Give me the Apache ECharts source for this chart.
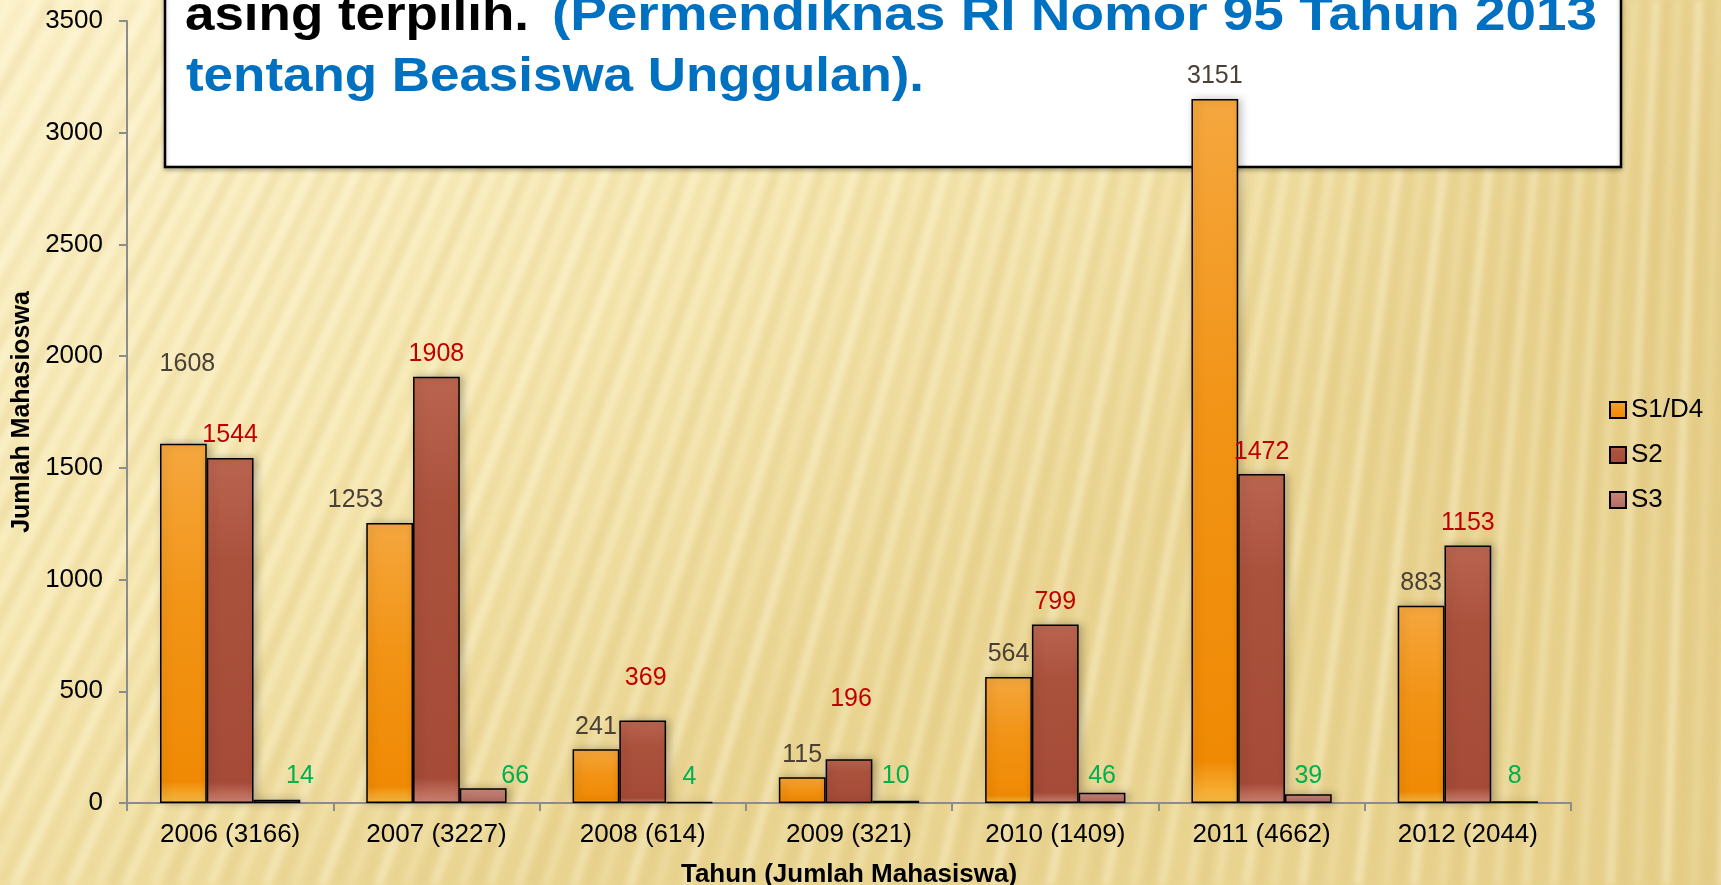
<!DOCTYPE html>
<html>
<head>
<meta charset="utf-8">
<script src="https://cdn.jsdelivr.net/npm/echarts@6/dist/echarts.min.js"></script>
<style>
  html, body { margin: 0; padding: 0; background: #F5E5AC; }
  #main { width: 1721px; height: 885px; }
</style>
</head>
<body>
<div id="main"></div>
<script>
var FONT = "'Liberation Sans', Arial, sans-serif";

// data
var categories = ['2006 (3166)', '2007 (3227)', '2008 (614)', '2009 (321)', '2010 (1409)', '2011 (4662)', '2012 (2044)'];
var s1 = [1608, 1253, 241, 115, 564, 3151, 883];
var s2 = [1544, 1908, 369, 196, 799, 1472, 1153];
var s3 = [14, 66, 4, 10, 46, 39, 8];
var yMin = 0, yMax = 3500, yStep = 500;

// labels that were dragged by hand in the original slide
var s1Nudge = { 0: [4, -57], 1: [-34, 0] };
var s2Nudge = { 2: [3, -20], 3: [2, -38] };
var s3Nudge = { 0: [23, -9], 1: [32, -9] };

function drawTexture(w, h) {
  var c = document.createElement('canvas');
  c.width = w;
  c.height = h;
  var ctx = c.getContext('2d');
  var base = ctx.createLinearGradient(0, 0, w * 0.3, h);
  base.addColorStop(0, '#FCF2CB');
  base.addColorStop(0.55, '#F6E7B0');
  base.addColorStop(1, '#EAD592');
  ctx.fillStyle = base;
  ctx.fillRect(0, 0, w, h);
  var side = ctx.createLinearGradient(w * 0.72, 0, w, 0);
  side.addColorStop(0, 'rgba(226,200,128,0)');
  side.addColorStop(1, 'rgba(226,200,128,0.45)');
  ctx.fillStyle = side;
  ctx.fillRect(0, 0, w, h);
  // diagonal straw stripes, leaning less towards the right
  ctx.filter = 'blur(3px)';
  for (var i = -40; i < 140; i++) {
    var xb = i * 14;
    var t = Math.min(Math.max((xb + 300) / (w + 300), 0), 1);
    var lean = 480 * (1 - t) + 20;
    var a = 0.3 + 0.15 * Math.sin(i * 1.7);
    ctx.strokeStyle = (i % 2) ? 'rgba(255,251,228,' + a + ')' : 'rgba(214,186,112,' + (a * 0.6) + ')';
    ctx.lineWidth = 7;
    ctx.beginPath();
    ctx.moveTo(xb, h);
    ctx.lineTo(xb + lean, 0);
    ctx.stroke();
  }
  ctx.filter = 'none';
  return c;
}

function grad(stops) {
  return new echarts.graphic.LinearGradient(0, 0, 0, 1, stops.map(function (s) {
    return { offset: s[0], color: s[1] };
  }));
}

function buildData(values, nudge) {
  return values.map(function (v, i) {
    if (!nudge[i]) return v;
    return { value: v, label: { offset: nudge[i] } };
  });
}

var chart = echarts.init(document.getElementById('main'));

var barBase = {
  type: 'bar',
  barGap: '0%',
  barCategoryGap: '32%',
  z: 3
};

var labelBase = {
  show: true,
  position: 'top',
  distance: 10,
  fontFamily: FONT,
  fontSize: 25,
  textBorderWidth: 0
};

var option = {
  animation: false,
  graphic: [
    {
      type: 'image', left: 0, top: 0, z: -10, silent: true,
      style: { image: drawTexture(1721, 885), width: 1721, height: 885 }
    },
    {
      type: 'rect', z: -5, silent: true,
      shape: { x: 165, y: -10, width: 1456, height: 177 },
      style: { fill: '#fff', stroke: '#000', lineWidth: 2.5, shadowBlur: 4, shadowColor: 'rgba(0,0,0,0.25)', shadowOffsetY: 2 }
    },
    {
      type: 'text', z: -4, silent: true, x: 185, y: 16, scaleX: 1.08,
      style: { text: 'asing terpilih.', font: 'bold 49px ' + FONT, fill: '#000', verticalAlign: 'middle' }
    },
    {
      type: 'text', z: -4, silent: true, x: 1597, y: 16, scaleX: 1.12,
      style: { text: '(Permendiknas RI Nomor 95 Tahun 2013', font: 'bold 49px ' + FONT, fill: '#0070C0', align: 'right', verticalAlign: 'middle' }
    },
    {
      type: 'text', z: -4, silent: true, x: 186, y: 77, scaleX: 1.08,
      style: { text: 'tentang Beasiswa Unggulan).', font: 'bold 49px ' + FONT, fill: '#0070C0', verticalAlign: 'middle' }
    }
  ],
  legend: {
    orient: 'vertical',
    left: 1604,
    top: 392,
    itemWidth: 16,
    itemHeight: 16,
    itemGap: 19,
    itemTextGap: 8,
    icon: 'rect',
    textStyle: { fontFamily: FONT, fontSize: 26, color: '#000' },
    data: ['S1/D4', 'S2', 'S3']
  },
  grid: { left: 127, right: 150, top: 21, bottom: 82, containLabel: false, outerBoundsMode: 'none' },
  xAxis: {
    type: 'category',
    data: categories,
    name: 'Tahun (Jumlah Mahasiswa)',
    nameLocation: 'middle',
    nameGap: 59,
    nameTextStyle: { fontFamily: FONT, fontSize: 26, fontWeight: 'bold', color: '#000' },
    axisLine: { show: true, lineStyle: { color: '#8C8C8C', width: 2 } },
    axisTick: { show: true, length: 8, lineStyle: { color: '#8C8C8C', width: 2 } },
    axisLabel: { fontFamily: FONT, fontSize: 26, color: '#000', margin: 19 },
    splitLine: { show: false }
  },
  yAxis: {
    type: 'value',
    min: yMin,
    max: yMax,
    interval: yStep,
    name: 'Jumlah Mahasioswa',
    nameLocation: 'middle',
    nameGap: 92,
    nameTextStyle: { fontFamily: FONT, fontSize: 25, fontWeight: 'bold', color: '#000' },
    axisLine: { show: true, lineStyle: { color: '#8C8C8C', width: 2 } },
    axisTick: { show: true, length: 8, lineStyle: { color: '#8C8C8C', width: 2 } },
    axisLabel: {
      fontFamily: FONT, fontSize: 26, color: '#000', margin: 24,
      formatter: function (v) { return String(v); }
    },
    splitLine: { show: false }
  },
  series: [
    Object.assign({}, barBase, {
      name: 'S1/D4',
      data: buildData(s1, s1Nudge),
      itemStyle: {
        color: grad([[0, '#F5A73E'], [0.45, '#F29416'], [0.94, '#F08A04'], [1, '#F8BC45']]),
        borderColor: '#000', borderWidth: 1.5,
        shadowBlur: 8, shadowColor: 'rgba(0,0,0,0.25)', shadowOffsetX: 3
      },
      label: Object.assign({}, labelBase, { color: '#4B4036' })
    }),
    Object.assign({}, barBase, {
      name: 'S2',
      data: buildData(s2, s2Nudge),
      itemStyle: {
        color: grad([[0, '#BA6550'], [0.3, '#AB523D'], [0.94, '#A54B37'], [1, '#D08575']]),
        borderColor: '#000', borderWidth: 1.5,
        shadowBlur: 8, shadowColor: 'rgba(0,0,0,0.25)', shadowOffsetX: 3
      },
      label: Object.assign({}, labelBase, { color: '#C00000' })
    }),
    Object.assign({}, barBase, {
      name: 'S3',
      data: buildData(s3, s3Nudge),
      itemStyle: {
        color: grad([[0, '#C9887B'], [1, '#B2695E']]),
        borderColor: '#000', borderWidth: 1.5,
        shadowBlur: 8, shadowColor: 'rgba(0,0,0,0.25)', shadowOffsetX: 3
      },
      label: Object.assign({}, labelBase, { color: '#00B050', position: 'insideBottom', distance: 5, offset: [0, -9] })
    })
  ]
};

chart.setOption(option);
</script>
</body>
</html>
